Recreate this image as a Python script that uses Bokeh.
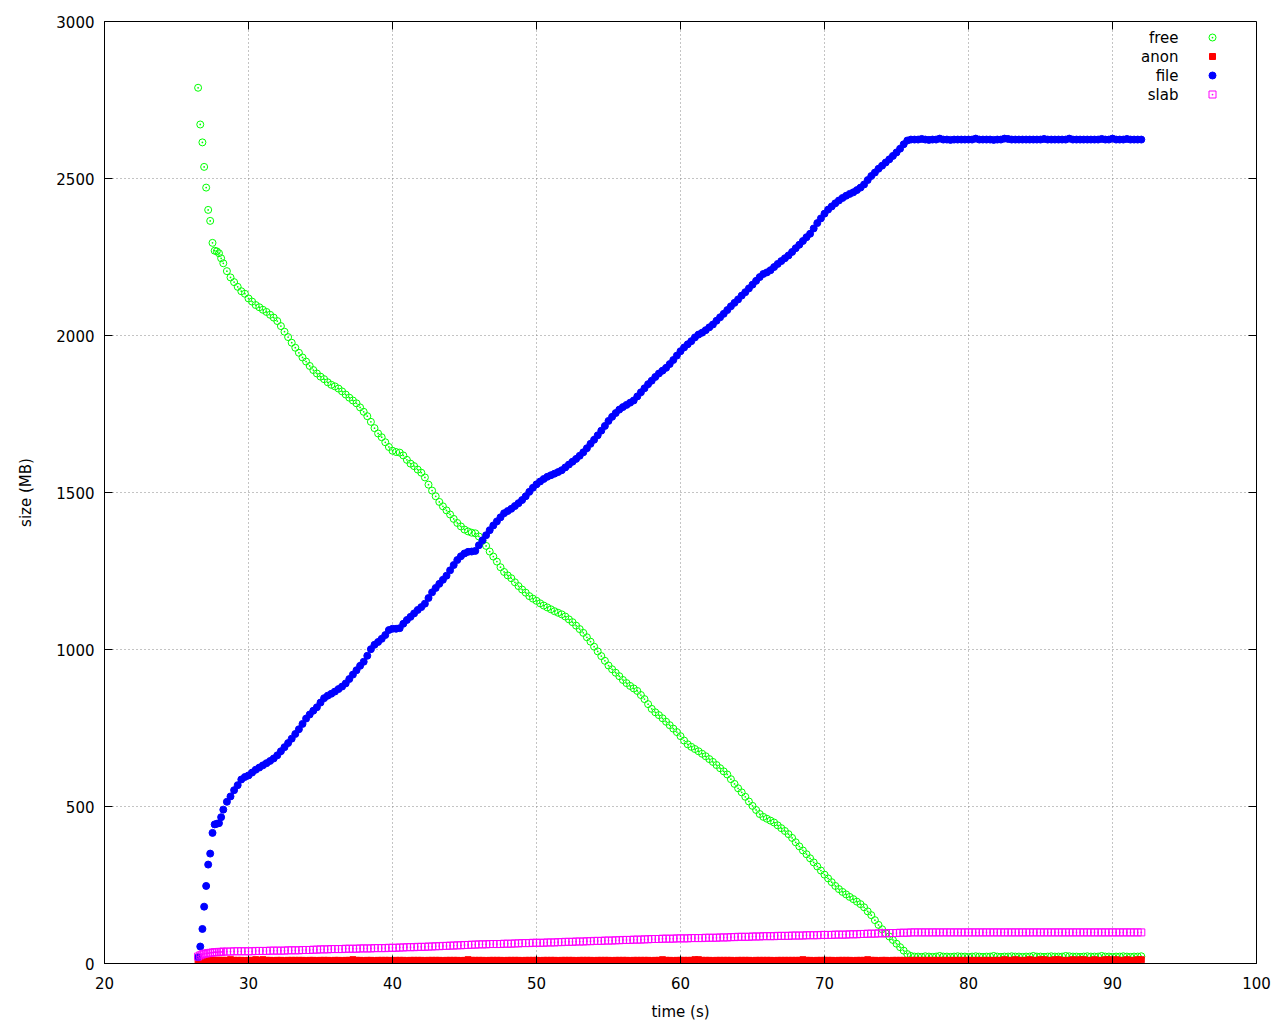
from bokeh.plotting import figure
from bokeh.models import Range1d, FixedTicker
from bokeh.embed import file_html
from bokeh.resources import INLINE
from bokeh.core.properties import value

# ---------------- data ----------------
t = [26.5, 26.65, 26.8, 26.92, 27.06, 27.2, 27.34, 27.5, 27.65, 27.8, 27.95, 28.1,
     28.25, 28.5, 28.75, 29.0, 29.25, 29.5, 29.75, 30.0,
     30.25, 30.5, 30.75, 31.0, 31.25, 31.5, 31.75, 32.0,
     32.25, 32.5, 32.75, 33.0, 33.25, 33.5, 33.75, 34.0,
     34.25, 34.5, 34.75, 35.0, 35.25, 35.5, 35.75, 36.0,
     36.25, 36.5, 36.75, 37.0, 37.25, 37.5, 37.75, 38.0,
     38.25, 38.5, 38.75, 39.0, 39.25, 39.5, 39.75, 40.0,
     40.25, 40.5, 40.75, 41.0, 41.25, 41.5, 41.75, 42.0,
     42.25, 42.5, 42.75, 43.0, 43.25, 43.5, 43.75, 44.0,
     44.25, 44.5, 44.75, 45.0, 45.25, 45.5, 45.75, 46.0,
     46.25, 46.5, 46.75, 47.0, 47.25, 47.5, 47.75, 48.0,
     48.25, 48.5, 48.75, 49.0, 49.25, 49.5, 49.75, 50.0,
     50.25, 50.5, 50.75, 51.0, 51.25, 51.5, 51.75, 52.0,
     52.25, 52.5, 52.75, 53.0, 53.25, 53.5, 53.75, 54.0,
     54.25, 54.5, 54.75, 55.0, 55.25, 55.5, 55.75, 56.0,
     56.25, 56.5, 56.75, 57.0, 57.25, 57.5, 57.75, 58.0,
     58.25, 58.5, 58.75, 59.0, 59.25, 59.5, 59.75, 60.0,
     60.25, 60.5, 60.75, 61.0, 61.25, 61.5, 61.75, 62.0,
     62.25, 62.5, 62.75, 63.0, 63.25, 63.5, 63.75, 64.0,
     64.25, 64.5, 64.75, 65.0, 65.25, 65.5, 65.75, 66.0,
     66.25, 66.5, 66.75, 67.0, 67.25, 67.5, 67.75, 68.0,
     68.25, 68.5, 68.75, 69.0, 69.25, 69.5, 69.75, 70.0,
     70.25, 70.5, 70.75, 71.0, 71.25, 71.5, 71.75, 72.0,
     72.25, 72.5, 72.75, 73.0, 73.25, 73.5, 73.75, 74.0,
     74.25, 74.5, 74.75, 75.0, 75.25, 75.5, 75.75, 76.0,
     76.25, 76.5, 76.75, 77.0, 77.25, 77.5, 77.75, 78.0,
     78.25, 78.5, 78.75, 79.0, 79.25, 79.5, 79.75, 80.0,
     80.25, 80.5, 80.75, 81.0, 81.25, 81.5, 81.75, 82.0,
     82.25, 82.5, 82.75, 83.0, 83.25, 83.5, 83.75, 84.0,
     84.25, 84.5, 84.75, 85.0, 85.25, 85.5, 85.75, 86.0,
     86.25, 86.5, 86.75, 87.0, 87.25, 87.5, 87.75, 88.0,
     88.25, 88.5, 88.75, 89.0, 89.25, 89.5, 89.75, 90.0,
     90.25, 90.5, 90.75, 91.0, 91.25, 91.5, 91.75, 92.0]

free = [2789, 2672, 2615, 2537, 2471, 2400, 2365, 2295, 2270, 2268, 2262, 2246,
        2230, 2205, 2185, 2170, 2155, 2141, 2133, 2118,
        2108, 2097, 2090, 2082, 2075, 2066, 2057, 2046,
        2030, 2012, 1995, 1977, 1961, 1945, 1930, 1917,
        1903, 1890, 1879, 1869, 1861, 1851, 1843, 1838,
        1831, 1822, 1812, 1802, 1793, 1784, 1771, 1757,
        1743, 1725, 1705, 1688, 1676, 1660, 1645, 1633,
        1629, 1627, 1618, 1604, 1592, 1584, 1573, 1563,
        1548, 1525, 1506, 1488, 1470, 1456, 1443, 1430,
        1416, 1403, 1392, 1382, 1376, 1372, 1370, 1360,
        1346, 1330, 1312, 1296, 1280, 1262, 1247, 1236,
        1227, 1214, 1202, 1191, 1181, 1170, 1162, 1155,
        1147, 1140, 1134, 1128, 1122, 1117, 1112, 1105,
        1096, 1087, 1076, 1065, 1053, 1039, 1025, 1009,
        994, 979, 964, 949, 937, 926, 915, 903,
        893, 884, 876, 868, 855, 842, 826, 811,
        800, 791, 781, 770, 759, 748, 737, 724,
        710, 698, 690, 683, 676, 668, 660, 651,
        642, 632, 622, 612, 602, 587, 572, 558,
        545, 531, 516, 502, 489, 476, 467, 461,
        455, 449, 440, 431, 422, 412, 400, 386,
        373, 360, 348, 335, 322, 309, 296, 283,
        271, 259, 247, 237, 228, 220, 212, 205,
        197, 189, 179, 166, 154, 138, 123, 109,
        96, 86, 75, 63, 52, 41, 30, 24,
        22, 22, 21, 23, 22, 21, 22, 24,
        22, 22, 21, 22, 23, 22, 22, 21,
        22, 23, 22, 21, 22, 22, 24, 22,
        21, 22, 22, 23, 22, 22, 21, 22,
        22, 24, 22, 22, 21, 22, 23, 22,
        22, 22, 24, 23, 22, 22, 21, 22,
        23, 22, 22, 22, 24, 22, 22, 21,
        22, 22, 23, 22, 21, 22, 22, 23]

anon = [2, 5, 7, 8, 9, 9, 9, 10, 10, 10, 10, 10,
        10, 10, 12, 10, 10, 10, 9, 10,
        10, 12, 10, 12, 10, 10, 9, 10,
        10, 9, 10, 10, 10, 10, 10, 9,
        10, 10, 9, 10, 10, 10, 9, 10,
        10, 9, 10, 10, 12, 10, 10, 9,
        10, 10, 9, 10, 10, 10, 10, 9,
        10, 10, 10, 9, 10, 10, 10, 10,
        9, 10, 10, 10, 10, 9, 10, 10,
        10, 10, 9, 10, 12, 10, 10, 10,
        10, 9, 10, 10, 10, 10, 9, 10,
        10, 10, 10, 9, 10, 10, 10, 10,
        9, 10, 10, 10, 10, 9, 10, 10,
        10, 10, 9, 10, 10, 10, 10, 9,
        10, 10, 10, 10, 9, 10, 10, 10,
        10, 9, 10, 10, 10, 10, 10, 9,
        10, 10, 12, 10, 10, 9, 10, 10,
        10, 10, 10, 12, 12, 10, 10, 10,
        9, 10, 10, 10, 10, 10, 9, 10,
        10, 10, 10, 9, 10, 10, 10, 10,
        10, 9, 10, 10, 10, 10, 10, 10,
        10, 12, 10, 10, 9, 10, 10, 10,
        10, 10, 9, 10, 10, 10, 10, 9,
        10, 10, 10, 12, 10, 10, 9, 10,
        10, 9, 10, 10, 10, 10, 9, 10,
        10, 10, 10, 10, 10, 10, 10, 10,
        10, 10, 10, 10, 10, 10, 10, 10,
        10, 10, 10, 10, 10, 10, 10, 10,
        10, 12, 10, 10, 12, 10, 10, 10,
        12, 10, 10, 12, 12, 10, 10, 12,
        12, 10, 10, 10, 12, 10, 12, 12,
        10, 10, 12, 10, 10, 12, 12, 10,
        12, 10, 10, 12, 10, 10, 12, 12]

file_ = [20, 54, 110, 181, 247, 315, 350, 416, 443, 445, 447, 466,
         490, 515, 532, 552, 568, 586, 594, 599,
         608, 617, 624, 631, 638, 645, 653, 663,
         676, 689, 702, 716, 731, 746, 763, 780,
         793, 805, 816, 831, 845, 853, 859, 866,
         874, 882, 892, 906, 920, 934, 948, 961,
         980, 1001, 1015, 1024, 1034, 1046, 1062, 1066,
         1066, 1068, 1082, 1094, 1104, 1115, 1126, 1135,
         1146, 1164, 1182, 1196, 1209, 1222, 1235, 1252,
         1269, 1285, 1297, 1306, 1311, 1312, 1314, 1332,
         1348, 1364, 1380, 1395, 1408, 1421, 1434, 1441,
         1448, 1457, 1466, 1476, 1488, 1502, 1515, 1526,
         1535, 1543, 1550, 1555, 1560, 1565, 1571, 1580,
         1589, 1598, 1607, 1617, 1628, 1641, 1655, 1668,
         1682, 1697, 1712, 1728, 1741, 1753, 1764, 1772,
         1779, 1786, 1793, 1806, 1819, 1832, 1845, 1856,
         1868, 1879, 1888, 1897, 1909, 1922, 1936, 1950,
         1962, 1972, 1982, 1994, 2003, 2009, 2017, 2026,
         2035, 2047, 2058, 2069, 2081, 2093, 2104, 2115,
         2127, 2138, 2150, 2162, 2174, 2186, 2196, 2201,
         2208, 2218, 2228, 2237, 2246, 2255, 2266, 2278,
         2289, 2301, 2313, 2324, 2341, 2358, 2373, 2388,
         2401, 2411, 2421, 2430, 2438, 2445, 2451, 2456,
         2463, 2471, 2481, 2495, 2508, 2519, 2531, 2541,
         2551, 2561, 2572, 2583, 2595, 2609, 2621, 2624,
         2624, 2624, 2626, 2624, 2623, 2624, 2624, 2627,
         2624, 2624, 2623, 2624, 2624, 2624, 2624, 2624,
         2624, 2627, 2624, 2624, 2624, 2624, 2623, 2624,
         2624, 2627, 2626, 2624, 2624, 2624, 2624, 2624,
         2624, 2624, 2624, 2624, 2626, 2624, 2624, 2624,
         2624, 2624, 2624, 2627, 2624, 2624, 2624, 2624,
         2624, 2624, 2624, 2624, 2626, 2624, 2624, 2627,
         2624, 2624, 2624, 2626, 2624, 2624, 2624, 2624]

slab = [22, 26, 29, 31, 32, 33, 34, 35, 36, 36, 37, 37,
        38, 38, 38, 39, 39, 39, 39, 39,
        39, 40, 40, 40, 40, 41, 41, 41,
        41, 41, 42, 42, 42, 42, 43, 43,
        43, 44, 44, 45, 45, 45, 46, 46,
        46, 46, 47, 47, 47, 47, 48, 48,
        48, 48, 49, 49, 49, 49, 50, 50,
        50, 51, 51, 52, 52, 52, 53, 53,
        53, 54, 54, 55, 55, 56, 56, 57,
        57, 58, 58, 59, 59, 60, 60, 61,
        61, 61, 62, 62, 62, 62, 63, 63,
        63, 64, 64, 65, 65, 65, 66, 66,
        66, 66, 67, 67, 67, 68, 68, 69,
        69, 69, 70, 70, 70, 71, 71, 72,
        72, 72, 73, 73, 73, 74, 74, 75,
        75, 75, 76, 76, 76, 77, 77, 78,
        78, 78, 79, 79, 79, 79, 80, 80,
        80, 80, 81, 81, 81, 81, 82, 82,
        82, 82, 83, 83, 83, 84, 84, 85,
        85, 85, 85, 86, 86, 86, 87, 87,
        87, 87, 88, 88, 88, 88, 89, 89,
        89, 89, 90, 90, 90, 90, 91, 91,
        91, 91, 92, 92, 92, 92, 93, 93,
        93, 94, 94, 95, 95, 95, 96, 96,
        96, 97, 97, 97, 98, 98, 98, 99,
        99, 99, 99, 99, 99, 99, 99, 99,
        99, 99, 99, 99, 99, 99, 99, 99,
        99, 99, 99, 99, 99, 99, 99, 99,
        99, 99, 99, 99, 99, 99, 99, 99,
        99, 99, 99, 99, 99, 99, 99, 99,
        99, 99, 99, 99, 99, 99, 99, 99,
        99, 99, 99, 99, 99, 99, 99, 99,
        99, 99, 99, 99, 99, 99, 99, 99]

series_names = ["free", "anon", "file", "slab"]
x_ticks = [20, 30, 40, 50, 60, 70, 80, 90, 100]
y_ticks = [0, 500, 1000, 1500, 2000, 2500, 3000]

# ---------------- styles ----------------
FONT = "DejaVu Sans"
FS = "15px"
GREEN, RED, BLUE, MAGENTA = "#00ff00", "#ff0000", "#0000ff", "#ff00ff"

X0, X1, Y0, Y1 = 20, 100, 0, 3000
W, H = 1272, 1024
BL, BR, BT, BB = 104, 16, 21, 61
FW, FH = W - BL - BR, H - BT - BB
TICK = 8

p = figure(width=W, height=H, x_range=Range1d(X0, X1), y_range=Range1d(Y0, Y1),
           output_backend="svg", toolbar_location=None,
           min_border_left=BL, min_border_right=BR, min_border_top=BT, min_border_bottom=BB)
p.background_fill_color = "white"
p.border_fill_color = "white"
p.outline_line_color = "black"
p.outline_line_width = 1

for ax in (p.xaxis[0], p.yaxis[0]):
    ax.axis_line_color = "black"
    ax.major_tick_in = TICK
    ax.major_tick_out = 0
    ax.minor_tick_in = 0
    ax.minor_tick_out = 0
    ax.major_tick_line_color = "black"
    ax.major_label_text_font = FONT
    ax.major_label_text_font_size = FS
    ax.major_label_text_color = "black"
    ax.axis_label_text_font = FONT
    ax.axis_label_text_font_size = FS
    ax.axis_label_text_font_style = "normal"
    ax.axis_label_text_color = "black"

p.xaxis.ticker = FixedTicker(ticks=x_ticks)
p.yaxis.ticker = FixedTicker(ticks=y_ticks)
p.xaxis.axis_label = "time (s)"
p.yaxis.axis_label = "size (MB)"
p.xaxis.major_label_standoff = 13
p.xaxis.axis_label_standoff = 11
p.yaxis.major_label_standoff = 10
p.yaxis.axis_label_standoff = 18

p.xgrid.ticker = FixedTicker(ticks=x_ticks)
p.ygrid.ticker = FixedTicker(ticks=y_ticks)
for g in (p.xgrid[0], p.ygrid[0]):
    g.grid_line_color = "#888888"
    g.grid_line_dash = "1 3"
    g.grid_line_width = 1

# mirrored inward ticks on the top and right border (gnuplot "mirror")
dxlen = TICK / FW * (X1 - X0)
dylen = TICK / FH * (Y1 - Y0)
p.segment(x0=x_ticks, x1=x_ticks, y0=[Y1] * len(x_ticks), y1=[Y1 - dylen] * len(x_ticks),
          line_color="black", line_width=1)
p.segment(x0=[X1] * len(y_ticks), x1=[X1 - dxlen] * len(y_ticks), y0=y_ticks, y1=y_ticks,
          line_color="black", line_width=1)

# ---------------- data marks (gnuplot order) ----------------
p.scatter(t, free, marker="circle_dot", size=7, fill_color=None, line_color=GREEN, line_width=1)
p.scatter(t, anon, marker="square", size=6, fill_color=RED, line_color=RED, line_width=1)
p.scatter(t, file_, marker="circle", size=7, fill_color=BLUE, line_color=BLUE, line_width=1)
p.scatter(t, slab, marker="square_dot", size=7, fill_color=None, line_color=MAGENTA, line_width=1)

# ---------------- legend (top-right, gnuplot style) ----------------
def dx(px):  # frame-relative pixel -> data x
    return X0 + px / FW * (X1 - X0)

def dy(py):  # frame-relative pixel from top -> data y
    return Y1 - py / FH * (Y1 - Y0)

rows = [16, 35, 54, 73]
text_x = dx(1074)
mark_x = dx(1108)
p.text(x=[text_x] * 4, y=[dy(r) for r in rows], text=series_names,
       text_align="right", text_baseline="middle",
       text_font=value(FONT), text_font_size=FS, text_color="black")
p.scatter([mark_x], [dy(rows[0])], marker="circle_dot", size=7, fill_color=None, line_color=GREEN)
p.scatter([mark_x], [dy(rows[1])], marker="square", size=6, fill_color=RED, line_color=RED)
p.scatter([mark_x], [dy(rows[2])], marker="circle", size=7, fill_color=BLUE, line_color=BLUE)
p.scatter([mark_x], [dy(rows[3])], marker="square_dot", size=7, fill_color=None, line_color=MAGENTA)

open("out.html", "w").write(file_html(p, INLINE))
